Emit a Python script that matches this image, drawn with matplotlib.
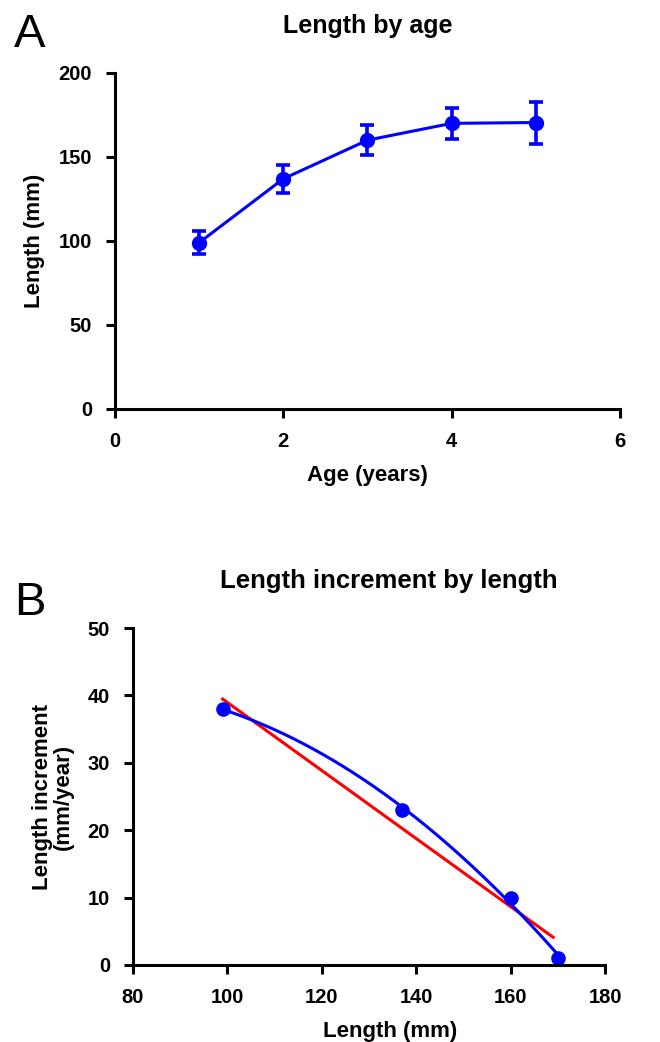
import numpy as np
import matplotlib.pyplot as plt

plt.rcParams["font.family"] = ["Liberation Sans", "DejaVu Sans"]
plt.rcParams["font.weight"] = "bold"

# Panel A data: mean length by age with error bars
age = [1, 2, 3, 4, 5]
length_mean = [99, 137, 160, 170, 170.5]
length_err = [7, 8.5, 9, 9.3, 12.5]

# Panel B data: length increment vs length
inc_length = [99, 137, 160, 170]
increment = [38, 23, 10, 1]


def _style_axes(ax):
    for side in ["top", "right"]:
        ax.spines[side].set_visible(False)
    for side in ["left", "bottom"]:
        ax.spines[side].set_linewidth(2.2)
    ax.tick_params(width=2.2, length=6.5, labelsize=14.5, pad=10)
    for lab in ax.get_xticklabels() + ax.get_yticklabels():
        lab.set_fontweight("bold")


fig = plt.figure(figsize=(6.6, 10.42), dpi=100)

# Panel A
ax1 = fig.add_axes([0.1742, 0.6075, 0.7652, 0.3225])
ax1.errorbar(
    age,
    length_mean,
    yerr=length_err,
    color="#0000ff",
    marker="o",
    markersize=10,
    linewidth=2.2,
    elinewidth=2.6,
    capsize=5,
    capthick=2.6,
    clip_on=False,
)
ax1.set_xlim(0, 6)
ax1.set_ylim(0, 200)
ax1.set_xticks([0, 2, 4, 6])
ax1.set_yticks([0, 50, 100, 150, 200])
ax1.set_xlabel("Age (years)", fontsize=16, fontweight="bold", labelpad=10)
ax1.set_ylabel("Length (mm)", fontsize=16, fontweight="bold", labelpad=10)
ax1.set_title("Length by age", fontsize=18, fontweight="bold", pad=29)
_style_axes(ax1)
fig.text(0.021, 0.955, "A", fontsize=34, fontweight="normal")

# Panel B
ax2 = fig.add_axes([0.2015, 0.0739, 0.7152, 0.3234])
lin = np.polyfit(inc_length, increment, 1)
quad = np.polyfit(inc_length, increment, 2)
xl = np.linspace(min(inc_length), 169, 50)
xq = np.linspace(min(inc_length), max(inc_length), 200)
ax2.plot(xl, np.polyval(lin, xl), color="#ff0000", linewidth=2.2)
ax2.plot(xq, np.polyval(quad, xq), color="#0000ff", linewidth=2.2)
ax2.plot(inc_length, increment, "o", color="#0000ff", markersize=9.5, clip_on=False)
ax2.set_xlim(80, 180)
ax2.set_ylim(0, 50)
ax2.set_xticks([80, 100, 120, 140, 160, 180])
ax2.set_yticks([0, 10, 20, 30, 40, 50])
ax2.set_xlabel("Length (mm)", fontsize=16, fontweight="bold", labelpad=10)
ax2.xaxis.label.set_x(0.545)
ax2.set_ylabel("Length increment\n(mm/year)", fontsize=16, fontweight="bold",
               labelpad=10, linespacing=1.0)
ax2.set_title("Length increment by length", fontsize=18.5, fontweight="bold",
              pad=29, x=0.543)
_style_axes(ax2)
fig.text(0.021, 0.410, "B", fontsize=34, fontweight="normal")

plt.savefig("out.png")
